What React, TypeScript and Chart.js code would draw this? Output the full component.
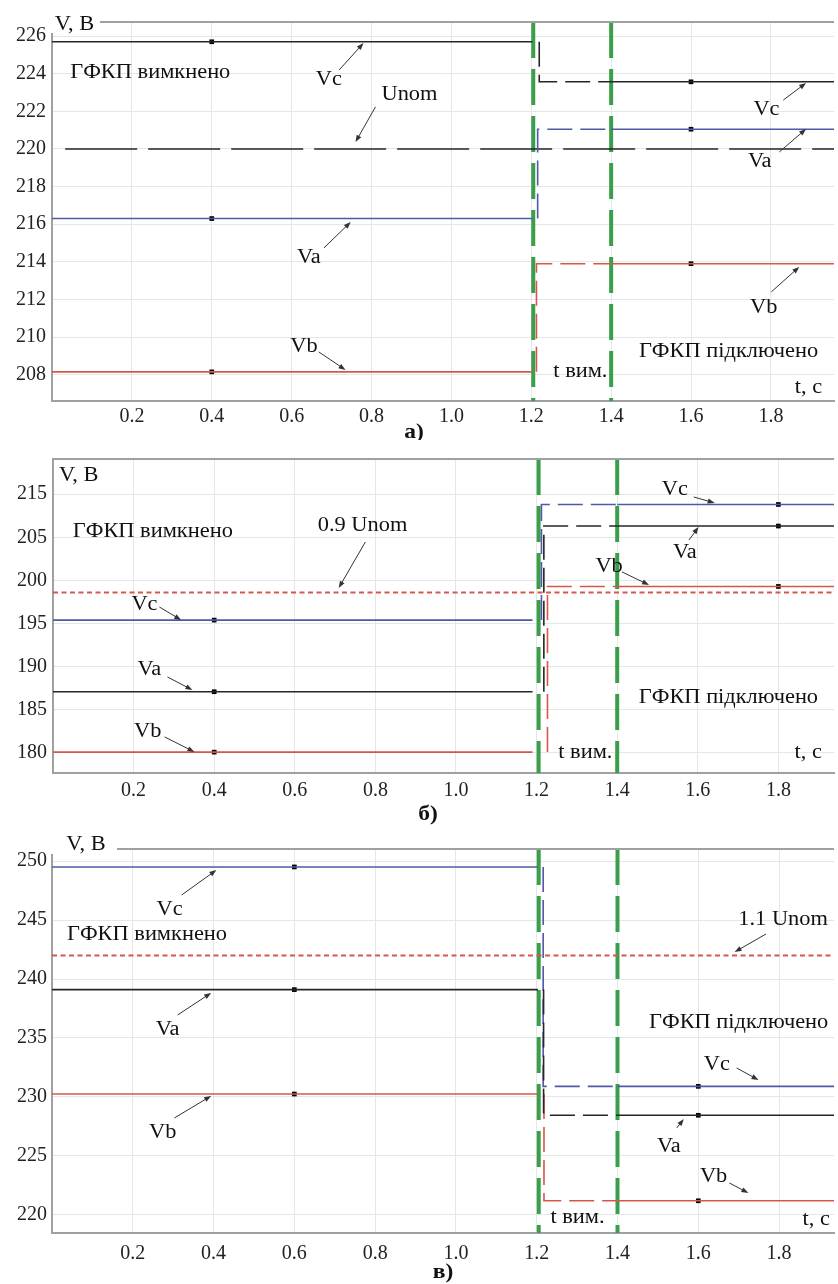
import React, { useEffect, useRef } from "react";
import { Chart, registerables } from "chart.js";

Chart.register(...registerables);

const FONT = '"Liberation Serif", "Times New Roman", serif';
const BLUE = "#5058a8";
const RED = "#d6564c";
const BLACK = "#262626";
const GREEN = "#3a9f4b";
const GRID = "#e6e6e6";
const AXIS = "#a0a0a0";
const STRETCH = 1.12;

// ---------- shared data ----------
const phaseNames = ["Va", "Vb", "Vc"];
const xTickValues = [0.2, 0.4, 0.6, 0.8, 1.0, 1.2, 1.4, 1.6, 1.8];
const greenLineTimes = [1.205, 1.4];
const connectTime = 1.4;

// ---------- panel а) ----------
const aYTicks = [208, 210, 212, 214, 216, 218, 220, 222, 224, 226];
const aYTickLabels = ["208", "210", "212", "214", "216", "218", "220", "222", "224", "226"];
const aBefore = [216.3, 208.15, 225.7];
const aAfter = [221.05, 213.9, 223.57];
const aStepTimes = [1.216, 1.213, 1.22];
const aOffTime = 1.203;
const aMarkerTimes = [0.4, 1.6];
const aRefLevel = 220; // Unom
const aRefStart = 0.033;

// ---------- panel б) ----------
const bYTicks = [180, 185, 190, 195, 200, 205, 210];
const bYTickLabels = ["180", "185", "190", "195", "200", "205", "215"];
const bBefore = [187.1, 180.1, 195.4];
const bAfter = [206.3, 199.3, 208.8];
const bStepTimes = [1.218, 1.227, 1.212];
const bOffTime = 1.19;
const bMarkerTimes = [0.4, 1.8];
const bRefLevel = 198.6; // 0.9 Unom
const bRefStart = 0;

// ---------- panel в) ----------
const cYTicks = [220, 225, 230, 235, 240, 245, 250];
const cYTickLabels = ["220", "225", "230", "235", "240", "245", "250"];
const cBefore = [239.1, 230.25, 249.5];
const cAfter = [228.45, 221.2, 230.9];
const cStepTimes = [1.217, 1.218, 1.216];
const cOffTime = 1.203;
const cMarkerTimes = [0.6, 1.6];
const cRefLevel = 242; // 1.1 Unom
const cRefStart = 0;

type Ann = { text: string; t: number; v: number; align?: CanvasTextAlign; arrow?: number[] };

const aAnns: Ann[] = [
  { text: "V, B", t: 0.056, v: 226.6 },
  { text: "ГФКП вимкнено", t: 0.0456, v: 224.04, align: "left" },
  { text: "Vc", t: 0.693, v: 223.67, arrow: [0.719, 224.2, 0.78, 225.63] },
  { text: "Unom", t: 0.895, v: 222.87, arrow: [0.81, 222.24, 0.76, 220.37] },
  { text: "Va", t: 0.643, v: 214.2, arrow: [0.681, 214.74, 0.748, 216.12] },
  { text: "Vb", t: 0.631, v: 209.47, arrow: [0.668, 209.21, 0.735, 208.25] },
  { text: "Vc", t: 1.789, v: 222.07, arrow: [1.831, 222.6, 1.888, 223.51] },
  { text: "Va", t: 1.772, v: 219.31, arrow: [1.821, 219.84, 1.888, 221.06] },
  { text: "Vb", t: 1.782, v: 211.55, arrow: [1.801, 212.4, 1.871, 213.73] },
  { text: "ГФКП підключено", t: 1.694, v: 209.21 },
  { text: "t вим.", t: 1.323, v: 208.14 },
  { text: "t, c", t: 1.894, v: 207.29 },
];

const bAnns: Ann[] = [
  { text: "V, B", t: 0.064, v: 212.1 },
  { text: "ГФКП вимкнено", t: 0.049, v: 205.61, align: "left" },
  { text: "0.9 Unom", t: 0.768, v: 206.31, arrow: [0.775, 204.45, 0.709, 199.12] },
  { text: "Vc", t: 0.227, v: 197.15, arrow: [0.264, 196.92, 0.318, 195.41] },
  { text: "Va", t: 0.239, v: 189.62, arrow: [0.284, 188.81, 0.346, 187.3] },
  { text: "Vb", t: 0.235, v: 182.44, arrow: [0.277, 181.86, 0.351, 180.12] },
  { text: "Vc", t: 1.543, v: 210.48, arrow: [1.59, 209.67, 1.642, 208.97] },
  { text: "Va", t: 1.568, v: 203.18, arrow: [1.578, 204.68, 1.602, 206.19] },
  { text: "Vb", t: 1.38, v: 201.56, arrow: [1.412, 200.98, 1.479, 199.47] },
  { text: "ГФКП підключено", t: 1.676, v: 186.38 },
  { text: "t вим.", t: 1.321, v: 180.0 },
  { text: "t, c", t: 1.874, v: 180.0 },
];

const cAnns: Ann[] = [
  { text: "V, B", t: 0.084, v: 251.36 },
  { text: "Vc", t: 0.291, v: 245.85, arrow: [0.321, 247.12, 0.407, 249.24] },
  { text: "ГФКП вимкнено", t: 0.037, v: 243.73, align: "left" },
  { text: "Va", t: 0.286, v: 235.68, arrow: [0.311, 236.95, 0.394, 238.82] },
  { text: "Vb", t: 0.274, v: 226.95, arrow: [0.303, 228.22, 0.394, 230.09] },
  { text: "1.1 Unom", t: 1.81, v: 245.0, arrow: [1.768, 243.82, 1.69, 242.29] },
  { text: "ГФКП підключено", t: 1.478, v: 236.27, align: "left" },
  { text: "Vc", t: 1.646, v: 232.71, arrow: [1.695, 232.46, 1.749, 231.44] },
  { text: "Va", t: 1.527, v: 225.77, arrow: [1.547, 227.38, 1.564, 228.14] },
  { text: "Vb", t: 1.638, v: 223.22, arrow: [1.677, 222.71, 1.724, 221.86] },
  { text: "t вим.", t: 1.301, v: 219.75 },
  { text: "t, c", t: 1.892, v: 219.58 },
];

type Panel = {
  top: number; height: number; padTop: number; yWidth: number; xHeight: number;
  xPad: number; yPad: number; xMax: number; yMin: number; yMax: number;
  yTicks: number[]; yLabels: string[];
  before: number[]; after: number[]; steps: number[]; off: number; marks: number[];
  colors: string[]; ref: number; refStart: number; refColor: string; refDash: number[]; refWidth: number;
  anns: Ann[]; sub: string; subX: number; subY: number; vbBox: number[] | null;
};

const panels: Panel[] = [
  {
    top: 0, height: 440, padTop: 22, yWidth: 52, xHeight: 39, xPad: 4, yPad: 6,
    xMax: 1.958, yMin: 206.6, yMax: 226.75, yTicks: aYTicks, yLabels: aYTickLabels,
    before: aBefore, after: aAfter, steps: aStepTimes, off: aOffTime, marks: aMarkerTimes,
    colors: [BLUE, RED, BLACK], ref: aRefLevel, refStart: aRefStart, refColor: BLACK, refDash: [72, 11], refWidth: 1.5,
    anns: aAnns, sub: "а)", subX: 414, subY: 433, vbBox: [50, 10, 100, 33],
  },
  {
    top: 440, height: 390, padTop: 19, yWidth: 53, xHeight: 57, xPad: 6, yPad: 6,
    xMax: 1.938, yMin: 177.68, yMax: 214.07, yTicks: bYTicks, yLabels: bYTickLabels,
    before: bBefore, after: bAfter, steps: bStepTimes, off: bOffTime, marks: bMarkerTimes,
    colors: [BLACK, RED, BLUE], ref: bRefLevel, refStart: bRefStart, refColor: RED, refDash: [5, 3.5], refWidth: 2,
    anns: bAnns, sub: "б)", subX: 428, subY: 375, vbBox: null,
  },
  {
    top: 830, height: 454, padTop: 19, yWidth: 52, xHeight: 51, xPad: 9, yPad: 5,
    xMax: 1.936, yMin: 218.47, yMax: 251.02, yTicks: cYTicks, yLabels: cYTickLabels,
    before: cBefore, after: cAfter, steps: cStepTimes, off: cOffTime, marks: cMarkerTimes,
    colors: [BLACK, RED, BLUE], ref: cRefLevel, refStart: cRefStart, refColor: RED, refDash: [5, 3.5], refWidth: 2,
    anns: cAnns, sub: "в)", subX: 443, subY: 443, vbBox: [50, 4, 117, 24],
  },
];

function drawText(ctx: CanvasRenderingContext2D, text: string, x: number, y: number, size: number, align: CanvasTextAlign, bold = false) {
  ctx.save();
  ctx.font = `${bold ? "bold " : ""}${size}px ${FONT}`;
  ctx.textBaseline = "middle";
  ctx.textAlign = align;
  ctx.fillStyle = "#111";
  ctx.translate(x, y);
  ctx.scale(STRETCH, 1);
  ctx.fillText(text, 0, 0);
  ctx.restore();
}

function drawArrow(ctx: CanvasRenderingContext2D, x1: number, y1: number, x2: number, y2: number) {
  const ang = Math.atan2(y2 - y1, x2 - x1);
  const hl = 7, hw = 2.6;
  ctx.save();
  ctx.strokeStyle = "#333";
  ctx.fillStyle = "#333";
  ctx.lineWidth = 1;
  ctx.beginPath();
  ctx.moveTo(x1, y1);
  ctx.lineTo(x2 - Math.cos(ang) * hl * 0.8, y2 - Math.sin(ang) * hl * 0.8);
  ctx.stroke();
  ctx.beginPath();
  ctx.moveTo(x2, y2);
  ctx.lineTo(x2 - Math.cos(ang) * hl - Math.sin(ang) * hw, y2 - Math.sin(ang) * hl + Math.cos(ang) * hw);
  ctx.lineTo(x2 - Math.cos(ang) * hl + Math.sin(ang) * hw, y2 - Math.sin(ang) * hl - Math.cos(ang) * hw);
  ctx.closePath();
  ctx.fill();
  ctx.restore();
}

function makeOverlay(p: Panel) {
  return {
    id: "overlay",
    afterDatasetsDraw(chart: any) {
      const { ctx, chartArea } = chart;
      const xs = chart.scales.x;
      const ys = chart.scales.y;
      ctx.save();
      ctx.strokeStyle = AXIS;
      ctx.lineWidth = 2;
      ctx.beginPath();
      ctx.moveTo(chartArea.left, chartArea.top);
      ctx.lineTo(chartArea.right, chartArea.top);
      ctx.stroke();
      if (p.vbBox) {
        ctx.fillStyle = "#fff";
        ctx.fillRect(p.vbBox[0], p.vbBox[1], p.vbBox[2] - p.vbBox[0], p.vbBox[3] - p.vbBox[1]);
      }
      for (const a of p.anns) {
        const x = xs.getPixelForValue(a.t);
        const y = ys.getPixelForValue(a.v);
        drawText(ctx, a.text, x, y, 20, a.align || "center");
        if (a.arrow) {
          drawArrow(ctx, xs.getPixelForValue(a.arrow[0]), ys.getPixelForValue(a.arrow[1]), xs.getPixelForValue(a.arrow[2]), ys.getPixelForValue(a.arrow[3]));
        }
      }
      drawText(ctx, p.sub, p.subX, p.subY, 21, "center", true);
      ctx.restore();
    },
  };
}

function buildDatasets(p: Panel) {
  const ds: any[] = [];
  const base = { pointRadius: 0, borderWidth: 1.6, fill: false, tension: 0, borderCapStyle: "butt" };
  p.before.forEach((b, i) => {
    const a = p.after[i];
    const s = p.steps[i];
    const c = p.colors[i];
    ds.push({ ...base, label: phaseNames[i] + " off", borderColor: c, data: [{ x: 0, y: b }, { x: p.off, y: b }] });
    ds.push({ ...base, label: phaseNames[i] + " switch", borderColor: c, borderDash: [25, 8], data: [{ x: s, y: b }, { x: s, y: a }, { x: connectTime, y: a }] });
    ds.push({ ...base, label: phaseNames[i] + " on", borderColor: c, data: [{ x: connectTime, y: a }, { x: p.xMax, y: a }] });
  });
  ds.push({ ...base, label: "ref", borderColor: p.refColor, borderWidth: p.refWidth, borderDash: p.refDash, data: [{ x: p.refStart, y: p.ref }, { x: p.xMax, y: p.ref }] });
  greenLineTimes.forEach((t, k) => {
    ds.push({ ...base, label: "green" + k, borderColor: GREEN, borderWidth: 4, borderDash: [36, 11], data: [{ x: t, y: p.yMax }, { x: t, y: p.yMin }] });
  });
  p.before.forEach((b, i) => {
    ds.push({
      label: phaseNames[i] + " markers", showLine: false, pointStyle: "rect", pointRadius: 3.3, pointBorderWidth: 0,
      pointBackgroundColor: "#000", borderColor: "#000",
      data: [{ x: p.marks[0], y: b }, { x: p.marks[1], y: p.after[i] }],
    });
  });
  return ds;
}

function PanelChart({ p }: { p: Panel }) {
  const ref = useRef<HTMLCanvasElement | null>(null);
  useEffect(() => {
    if (!ref.current) return;
    const chart = new Chart(ref.current, {
      type: "line",
      data: { datasets: buildDatasets(p) },
      options: {
        animation: false,
        responsive: false,
        devicePixelRatio: 1,
        events: [],
        layout: { padding: { top: p.padTop, left: 0, right: 0, bottom: 0 } },
        plugins: { legend: { display: false }, tooltip: { enabled: false } },
        scales: {
          x: {
            type: "linear", min: 0, max: p.xMax,
            afterBuildTicks: (s: any) => { s.ticks = xTickValues.map((v) => ({ value: v })); },
            afterFit: (s: any) => { s.height = p.xHeight; },
            grid: { color: GRID, drawTicks: false, lineWidth: 1 },
            border: { color: AXIS, width: 2 },
            ticks: {
              font: { family: FONT, size: 20 }, color: "#222", padding: p.xPad, maxRotation: 0, autoSkip: false,
              callback: (v: any) => Number(v).toFixed(1),
            },
          },
          y: {
            type: "linear", min: p.yMin, max: p.yMax,
            afterBuildTicks: (s: any) => { s.ticks = p.yTicks.map((v) => ({ value: v })); },
            afterFit: (s: any) => { s.width = p.yWidth; },
            grid: { color: GRID, drawTicks: false, lineWidth: 1 },
            border: { color: AXIS, width: 2 },
            ticks: {
              font: { family: FONT, size: 20 }, color: "#222", padding: p.yPad, autoSkip: false,
              callback: (v: any) => { const k = p.yTicks.indexOf(Number(v)); return k >= 0 ? p.yLabels[k] : ""; },
            },
          },
        },
      } as any,
      plugins: [makeOverlay(p)],
    });
    return () => chart.destroy();
  }, [p]);
  return (
    <canvas
      ref={ref}
      width={838}
      height={p.height}
      style={{ position: "absolute", left: 0, top: p.top, width: 838, height: p.height }}
    />
  );
}

export default function App() {
  return (
    <div style={{ position: "absolute", left: 0, top: 0, width: 838, height: 1284, background: "#fff", overflow: "hidden" }}>
      {panels.map((p, i) => (
        <PanelChart key={i} p={p} />
      ))}
    </div>
  );
}
